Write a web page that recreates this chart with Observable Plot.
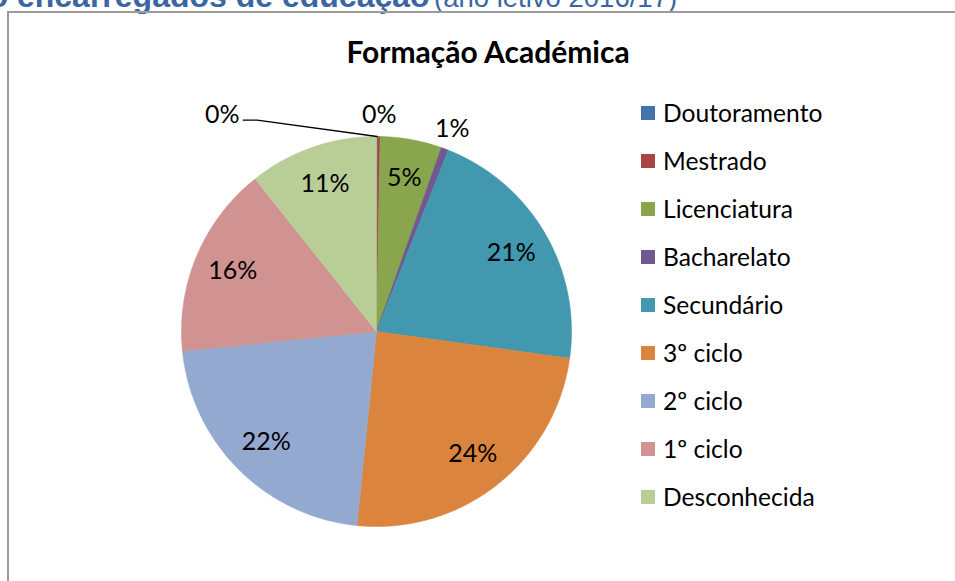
<!DOCTYPE html>
<html>
<head>
<meta charset="utf-8">
<script src="https://cdn.jsdelivr.net/npm/d3@7"></script>
<script src="https://cdn.jsdelivr.net/npm/@observablehq/plot@0.6"></script>
<style>
  body { margin: 0; background: #fff; }
  #page { position: relative; width: 955px; height: 581px; overflow: hidden; background: #fff; color: #000; }
  #hdr { position: absolute; left: -11.5px; top: -20px; white-space: nowrap; color: #3A66A2;
         font-family: "Liberation Sans", Arial, sans-serif; line-height: 32px; }
  #hdr b { font-size: 32px; font-weight: bold; }
  #hdr span { font-size: 27.5px; }
  #box { position: absolute; left: 7px; top: 11px; width: 1000px; height: 1000px;
         border-top: 2px solid #9c9c9c; border-left: 2px solid #9c9c9c; }
  #title { position: absolute; left: 0; width: 976px; text-align: center; top: 35.5px;
           font-family: Lato, "Open Sans", sans-serif; font-weight: bold; font-size: 30px; line-height: 30px; }
  #chart { position: absolute; left: 0; top: 0; }
  #legend { position: absolute; left: 641px; top: 0; font-family: Lato, "Open Sans", sans-serif; font-size: 24.6px; }
  .li { position: absolute; left: 0; white-space: nowrap; height: 0; }
  .sw { position: absolute; left: 0; top: -7px; width: 14px; height: 14px; }
  .lt { position: absolute; left: 22px; top: -14px; line-height: 28px; }
</style>
</head>
<body>
<div id="page">
  <div id="hdr"><b>o encarregados de educação</b> <span>(ano letivo 2016/17)</span></div>
  <div id="box"></div>
  <div id="title">Formação Académica</div>
  <div id="chart"></div>
  <div id="legend"></div>
</div>
<script>
// ---- data ----
const categories = ["Doutoramento", "Mestrado", "Licenciatura", "Bacharelato", "Secundário", "3º ciclo", "2º ciclo", "1º ciclo", "Desconhecida"];
const values = [0.1, 0.2, 5.1, 0.6, 21.2, 24.4, 21.8, 15.9, 10.7];
const colors = ["#4572A7", "#AA4643", "#89A54E", "#71588F", "#4198AF", "#DB843D", "#93A9CF", "#D19392", "#B9CD96"];

// ---- layout constants ----
const pieR = 195;               // pixels per unit radius
const insideR = 0.8;            // label radius for large slices
const outsideR = 1.11;          // label radius for small slices
const smallLimit = 0.01;        // share below which label goes outside
const movedLabels = { "Doutoramento": { dx: -155 } }; // label moved (px) with leader line

const total = d3.sum(values);
const fmt = d3.format(".0%");
const arcs = d3.pie().sort(null).value(d => d)(values);

const slicePts = [];
arcs.forEach((a, i) => {
  const cat = categories[i];
  const n = Math.max(2, Math.ceil((a.endAngle - a.startAngle) / 0.005));
  slicePts.push({ cat, x: 0, y: 0 });
  for (let k = 0; k <= n; k++) {
    const ang = a.startAngle + (a.endAngle - a.startAngle) * k / n;
    slicePts.push({ cat, x: Math.sin(ang), y: Math.cos(ang) });
  }
  slicePts.push({ cat, x: 0, y: 0 });
});

const labelData = arcs.map((a, i) => {
  const share = values[i] / total;
  const mid = (a.startAngle + a.endAngle) / 2;
  const r = share < smallLimit ? outsideR : insideR;
  const mv = movedLabels[categories[i]];
  const lx = Math.sin(mid) * r + (mv ? mv.dx / pieR : 0);
  const ly = Math.cos(mid) * r;
  return { cat: categories[i], text: fmt(share), x: lx, y: ly, mid, moved: !!mv };
});

const leaders = [];
labelData.filter(d => d.moved).forEach(d => {
  const yl = d.y - 5 / pieR;
  leaders.push({ g: d.cat, x: d.x + 21 / pieR, y: yl });
  leaders.push({ g: d.cat, x: d.x + 35 / pieR, y: yl });
  leaders.push({ g: d.cat, x: Math.sin(d.mid), y: Math.cos(d.mid) });
});

const chart = Plot.plot({
  width: 955,
  height: 581,
  margin: 0,
  x: { domain: [-1, 1], range: [376 - pieR, 376 + pieR], axis: null },
  y: { domain: [-1, 1], range: [331 + pieR, 331 - pieR], axis: null },
  color: { domain: categories, range: colors },
  style: { background: "transparent", fontFamily: "Lato, 'Open Sans', sans-serif", fontSize: "25px", color: "#000", overflow: "visible" },
  marks: [
    Plot.line(slicePts, { x: "x", y: "y", z: "cat", fill: "cat", stroke: "cat", strokeWidth: 0.6, curve: "linear" }),
    Plot.line(leaders, { x: "x", y: "y", z: "g", stroke: "#000", strokeWidth: 1.3 }),
    Plot.text(labelData, { x: "x", y: "y", text: "text", fill: "#000", fontSize: 25 })
  ]
});
document.getElementById("chart").appendChild(chart);

// legend from data arrays
const legend = d3.select("#legend");
categories.forEach((c, i) => {
  const row = legend.append("div").attr("class", "li").style("top", (113 + 48 * i) + "px");
  row.append("div").attr("class", "sw").style("background", colors[i]);
  row.append("div").attr("class", "lt").text(c);
});
</script>
</body>
</html>
